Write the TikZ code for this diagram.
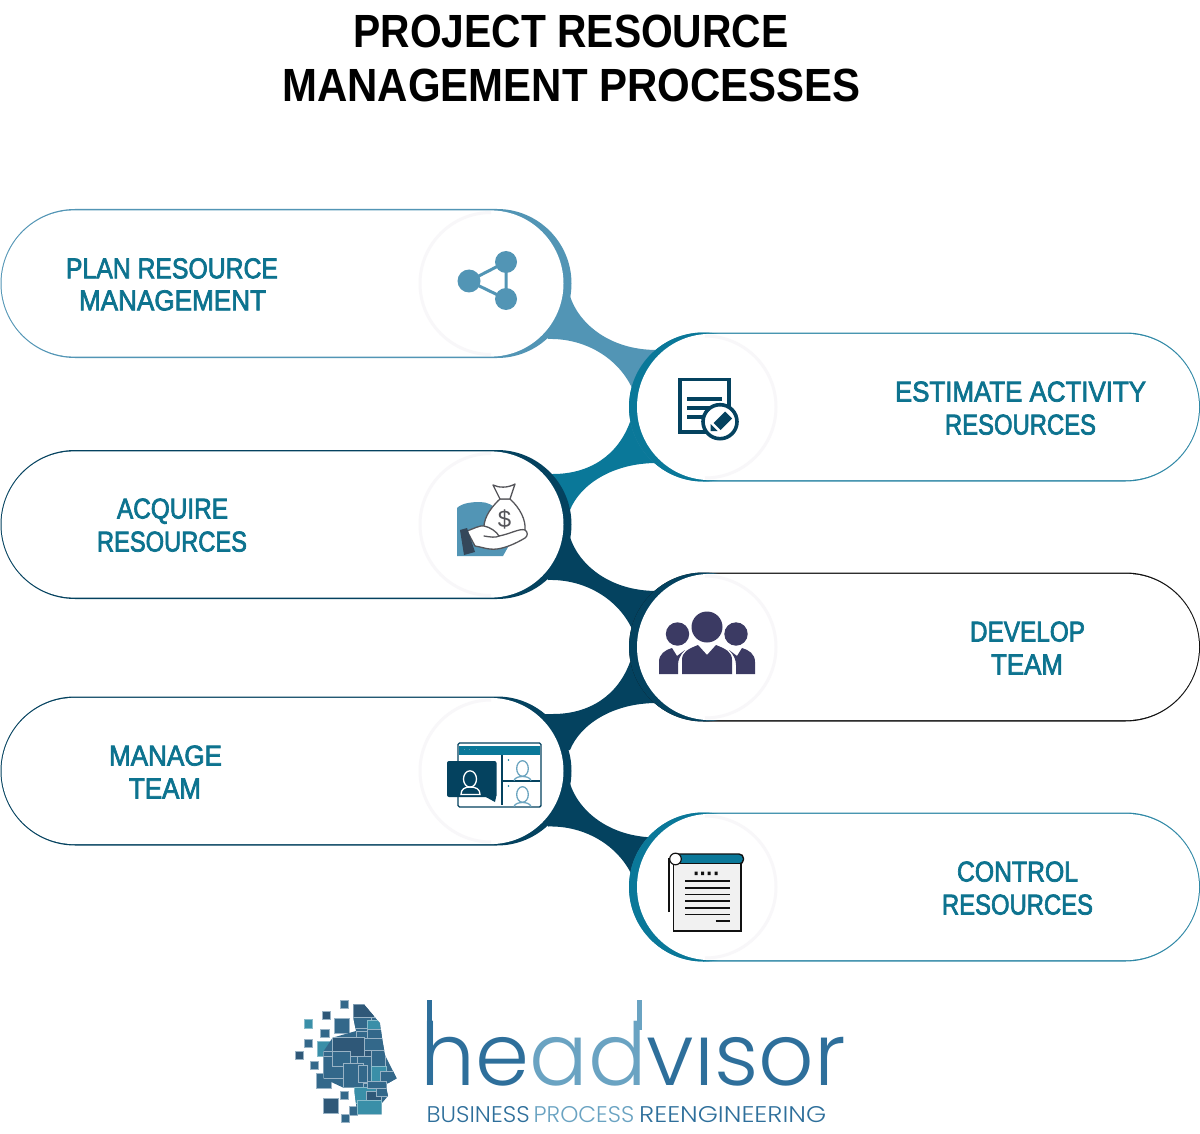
\documentclass[tikz,border=0pt]{standalone}
\usepackage{fontspec}
\usepackage{graphicx}
\usetikzlibrary{shapes.misc}
\setmainfont{Liberation Sans}
\newfontfamily\lblfont[FakeBold=2.6]{Liberation Sans}
\newfontfamily\logofont[UprightFont=* Light]{Poppins}
\definecolor{cA}{HTML}{5295B5}
\definecolor{cB}{HTML}{0A7899}
\definecolor{cC}{HTML}{04425F}
\definecolor{cK}{HTML}{111111}
\definecolor{cF}{HTML}{2F88A6}
\definecolor{txt}{HTML}{0D738F}
\definecolor{ring}{HTML}{F8F7F9}
\definecolor{team}{HTML}{3B3A63}
\definecolor{lgA}{HTML}{2E6F9B}
\definecolor{lgB}{HTML}{6AA3C2}
\definecolor{hdA}{HTML}{33688A}
\definecolor{hdB}{HTML}{3A8FA8}
\definecolor{hdC}{HTML}{2F5878}
\definecolor{gy}{HTML}{55555A}
\definecolor{cuff}{HTML}{34475A}
\definecolor{pagefill}{HTML}{F1F1F1}
\newcommand\fw[3]{\resizebox{#1pt}{#2pt}{#3}}
\tikzset{
 pill/.style={rounded rectangle,rounded rectangle arc length=180,inner sep=0pt,minimum height=#1pt,draw=none},
 lbl/.style={anchor=base,inner sep=0pt,text=txt,font=\lblfont},
 ttl/.style={anchor=base,inner sep=0pt,text=black,font=\bfseries},
 ringline/.style={draw=ring,line width=3pt},
 sq/.style={fill=hdA,draw=hdA!50!white,line width=.5pt},
 sqt/.style={fill=hdB,draw=hdB!60!white,line width=.5pt},
 sqd/.style={fill=hdC,draw=hdA!50!white,line width=.5pt},
 tag/.style={anchor=base west,inner sep=0pt,font=\logofont},
}
\newcommand\connA[2]{\begin{scope}[shift={(0,#2)}]\fill[#1] (540,290) -- (570,296) .. controls (578,322) and (608,350) .. (657,350) -- (690,400) -- (632,388) .. controls (618,358) and (585,338) .. (548,339) -- cycle;\end{scope}}
\newcommand\connB[2]{\begin{scope}[shift={(0,#2)}]\fill[#1] (630,422) .. controls (618,455) and (590,474) .. (553,474) -- (543,474) -- (530,510) -- (570,510) .. controls (580,485) and (612,463) .. (657,463) -- (680,440) -- cycle;\end{scope}}
\begin{document}
\begin{tikzpicture}[x=1pt,y=-1pt]
\useasboundingbox (0,0) rectangle (1200,1134);
\fill[white] (0,0) rectangle (1200,1134);
% title
\node[ttl] (title1) at (571,47.5) {\fw{435}{32.5}{PROJECT RESOURCE}};
\node[ttl] (title2) at (571.5,101.5) {\fw{578}{32.5}{MANAGEMENT PROCESSES}};
% connectors
\connA{cA}{0}
\connB{cB}{0}
\connA{cC}{241}
\connB{cC}{240}
\connA{cC}{487.5}
% left capsules
\foreach \nm/\c/\yy in {plan/cA/283.5,acquire/cC/524.5,manage/cC/771}{
 \node[pill=149,fill=\c,minimum width=571pt] (\nm) at (286,\yy) {};
 \node[pill=146.2,fill=white,minimum width=562pt] (\nm in) at (282.5,\yy) {};
 \draw[ringline] (491,\yy) ++(0,71) arc[start angle=90,end angle=270,radius=71];
}
% right capsules
\foreach \nm/\c/\d/\yy in {estimate/cF/cB/407,develop/cK/cC/647,control/cF/cB/887}{
 \node[pill=149,fill=\c,minimum width=571pt] (\nm) at (914.5,\yy) {};
 \fill[\d] (703.5,\yy) circle (74.5);
 \node[pill=146.2,fill=white,minimum width=562pt] (\nm in) at (918,\yy) {};
 \draw[ringline] (705,\yy) ++(0,71) arc[start angle=90,end angle=-90,radius=71];
}
% labels
\node[lbl] (l1a) at (172,278.3) {\fw{212}{20}{PLAN RESOURCE}};
\node[lbl] (l1b) at (172.5,310.3) {\fw{187}{20}{MANAGEMENT}};
\node[lbl] (l2a) at (1020.5,401.5) {\fw{251}{20}{ESTIMATE ACTIVITY}};
\node[lbl] (l2b) at (1020.5,434.5) {\fw{151}{20}{RESOURCES}};
\node[lbl] (l3a) at (172.5,518.5) {\fw{111}{20}{ACQUIRE}};
\node[lbl] (l3b) at (172,551.5) {\fw{150}{20}{RESOURCES}};
\node[lbl] (l4a) at (1027.5,641.5) {\fw{115}{20}{DEVELOP}};
\node[lbl] (l4b) at (1027,674.5) {\fw{72}{20}{TEAM}};
\node[lbl] (l5a) at (165.5,765.5) {\fw{113}{20}{MANAGE}};
\node[lbl] (l5b) at (165,798.5) {\fw{72}{20}{TEAM}};
\node[lbl] (l6a) at (1017.5,881.5) {\fw{121}{20}{CONTROL}};
\node[lbl] (l6b) at (1017.5,914.5) {\fw{151}{20}{RESOURCES}};
% icon share
\draw[cA,line width=3pt] (469,281) -- (506,262) -- (506,299) -- cycle;
\fill[cA] (469,281) circle (11.5) (506,262) circle (11) (506,299) circle (11);
% icon document with pencil
\draw[cC,line width=3.6pt] (680,379.5) rectangle (729,432);
\draw[cC,line width=3.8pt] (687,398.7) -- (722,398.7) (687,407.7) -- (712,407.7) (687,416.7) -- (708,416.7);
\draw[cC,line width=3.6pt,fill=white] (720,421.7) circle (17);
\fill[cC] (713.5,423) -- (725,411.5) -- (732,418.5) -- (720.5,430) -- cycle;
\fill[cC] (710.5,424) -- (710.5,431) -- (717.5,431) -- cycle;
% icon money bag
\fill[cA] (457,556) -- (457,508) .. controls (462,503) and (472,502) .. (480,502) .. controls (495,502) and (505,515) .. (512,540) -- (503,556) -- cycle;
\draw[gy,line width=1.3pt,line join=round,fill=white] (500,499) .. controls (488,510) and (483,521) .. (484,530) .. controls (486,540) and (522,540) .. (525,530) .. controls (526,520) and (520,508) .. (510,499) -- cycle;
\draw[gy,line width=1.3pt,line join=round,fill=white] (493,485) .. controls (499,488) and (508,488) .. (515,484) -- (510,499) -- (500,499) -- cycle;
\node[inner sep=0pt,text=gy,font=\fontsize{24}{24}\selectfont] (dollar) at (504.5,519.5) {\$};
\draw[gy,line width=1.3pt,line join=round,fill=white] (467,531) .. controls (473,529) and (480,525) .. (484,526) .. controls (490,527) and (497,532) .. (499,536) .. controls (510,534) and (520,528) .. (525,530) .. controls (528,532) and (528,536) .. (525,538) .. controls (515,544) and (505,548) .. (497,549) .. controls (488,550) and (482,547) .. (475,546) -- cycle;
\draw[gy,line width=1.3pt,line cap=round] (484,536) .. controls (490,537) and (496,538) .. (499,536);
\fill[cuff] (460,530) -- (467,528) -- (475,552) -- (464,555) -- cycle;
% icon team
\fill[team] (707,627) circle (15.5) (677.5,634) circle (11.7) (736,634) circle (11.7);
\fill[team] (682,674) -- (682,660) .. controls (682,652) and (688,649) .. (698,645) -- (707,655) -- (716,645) .. controls (726,649) and (732,652) .. (732,660) -- (732,674) -- cycle;
\fill[team] (659,674) -- (659,662) .. controls (659,654) and (665,650) .. (672,648) -- (677,656) -- (685,650) .. controls (680,655) and (678,660) .. (678,665) -- (678,674) -- cycle;
\fill[team] (755,674) -- (755,662) .. controls (755,654) and (749,650) .. (742,648) -- (737,656) -- (729,650) .. controls (734,655) and (736,660) .. (736,665) -- (736,674) -- cycle;
% icon video call
\draw[cC,line width=1.4pt,rounded corners=1.5pt,fill=white] (458,743) rectangle (541,807);
\fill[cB] (458.7,746) rectangle (540.3,754.5);
\draw[cC,line width=1.3pt] (502,755) -- (502,805) (502,781) -- (540,781);
\draw[cA,line width=.8pt] (464,749.5) -- (465,749.5) (469,749.5) -- (470,749.5) (476,749.5) -- (477,749.5);
\fill[cC,rounded corners=2pt] (447,761) rectangle (496.5,797);
\fill[cC] (484,796) -- (495,802) -- (496.5,795) -- cycle;
\draw[white,line width=1.3pt] (470,779) ellipse (6.5 and 8.2);
\draw[white,line width=1.3pt] (461,794.5) .. controls (461,789) and (465,787) .. (470,787) .. controls (476,787) and (480,789) .. (480,794.5) -- cycle;
\begin{scope}
\clip (503,755) rectangle (540,806);
\draw[cA!85!white,line width=1.3pt,fill=white] (522.5,768.5) ellipse (5.8 and 7.8);
\draw[cA!85!white,line width=1.3pt] (514,780.5) .. controls (515,777.5) and (519,776.5) .. (522.5,776.5) .. controls (526,776.5) and (530,777.5) .. (531,780.5);
\draw[cA!85!white,line width=1.3pt,fill=white] (522.5,794.5) ellipse (5.8 and 7.8);
\draw[cA!85!white,line width=1.3pt] (514,806.5) .. controls (515,803.5) and (519,802.5) .. (522.5,802.5) .. controls (526,802.5) and (530,803.5) .. (531,806.5);
\end{scope}
\fill[cB] (508.5,760) circle (.8) (508.5,786) circle (.8);
% icon notes
\draw[cK,line width=1.3pt] (669,912) -- (669,858);
\draw[cK,line width=1.4pt,fill=cB,rounded corners=4.5pt] (672,854) rectangle (743.5,864);
\draw[cK,line width=1.4pt,fill=pagefill] (673.7,863.5) rectangle (741,931);
\draw[cK,line width=1.2pt,fill=white] (675.5,859) circle (5.8);
\fill[cK] (694.5,871.5) rectangle (697.5,875) (701,871.5) rectangle (704,875) (707.5,871.5) rectangle (710.5,875) (714.5,871.5) rectangle (717.5,875);
\draw[cK,line width=1.2pt] (685,881) -- (730,881) (685,888) -- (730,888) (685,894.5) -- (730,894.5) (685,901) -- (730,901) (685,908) -- (730,908) (685,914.5) -- (730,914.5) (715.5,921) -- (730,921);
% logo head
\begin{scope}[shift={(290,995)},scale=1/3]
\foreach \a/\b/\cc/\d/\s in {151/16/176/41/sq,97/48/122/73/sqd,42/74/68/100/sqt,133/71/179/116/sq,92/102/117/127/sq,43/132/68/157/sq,16/168/40/192/sqd,83/140/128/184/sqt,60/199/85/224/sq,79/235/124/279/sq,151/290/175/314/sq,101/311/146/355/sqd,154/357/178/382/sq,178/335/202/360/sq}{
 \filldraw[\s] (\a,\b) rectangle (\cc,\d);
}
\begin{scope}
\clip (190,28) -- (222,28) -- (270,85) -- (277,135) -- (285,180) -- (320,250) -- (290,267) -- (290,285) -- (294,303) -- (275,325) -- (275,358) -- (202,358) -- (192,278) -- (160,278) -- (100,250) -- (100,170) -- (128,128) -- (198,108) -- (190,68) -- cycle;
\fill[hdA] (90,20) rectangle (330,360);
\foreach \a/\b/\cc/\d/\s in {190/28/255/68/sqd,190/68/245/100/sq,232/75/270/102/sqt,232/102/280/130/sq,198/108/232/160/sq,222/130/290/165/sq,128/128/222/185/sqd,100/170/127/190/sq,100/185/160/250/sq,128/170/180/215/sq,245/165/285/215/sq,222/165/245/185/sqd,203/185/245/265/sq,245/215/290/262/sqt,160/205/220/278/sq,205/212/233/262/sq,272/228/325/265/sq,192/278/260/325/sqt,233/258/290/280/sq,228/290/275/318/sqd,258/280/295/305/sq,202/316/275/358/sqt}{
 \filldraw[\s] (\a,\b) rectangle (\cc,\d);
}
\end{scope}
\end{scope}
% logo text
\node[anchor=base west,inner sep=0pt,font=\logofont] (logo) at (420.5,1085) {\resizebox{425pt}{!}{\color{lgA}he\color{lgB}ad\color{lgA}visor}};
\fill[lgA] (427,1000) rectangle (432,1030);
\fill[lgB] (636.5,1000) rectangle (641.5,1030);
\fill[white] (692,1003) rectangle (722,1034);
\node[tag] (tagA) at (426.5,1122) {\resizebox{103pt}{16pt}{\color{lgA}BUSINESS}};
\node[tag] (tagB) at (533.5,1122) {\resizebox{100.5pt}{16pt}{\color{lgB}PROCESS}};
\node[tag] (tagC) at (639,1122) {\resizebox{187pt}{16pt}{\color{lgA}REENGINEERING}};
\end{tikzpicture}
\end{document}
